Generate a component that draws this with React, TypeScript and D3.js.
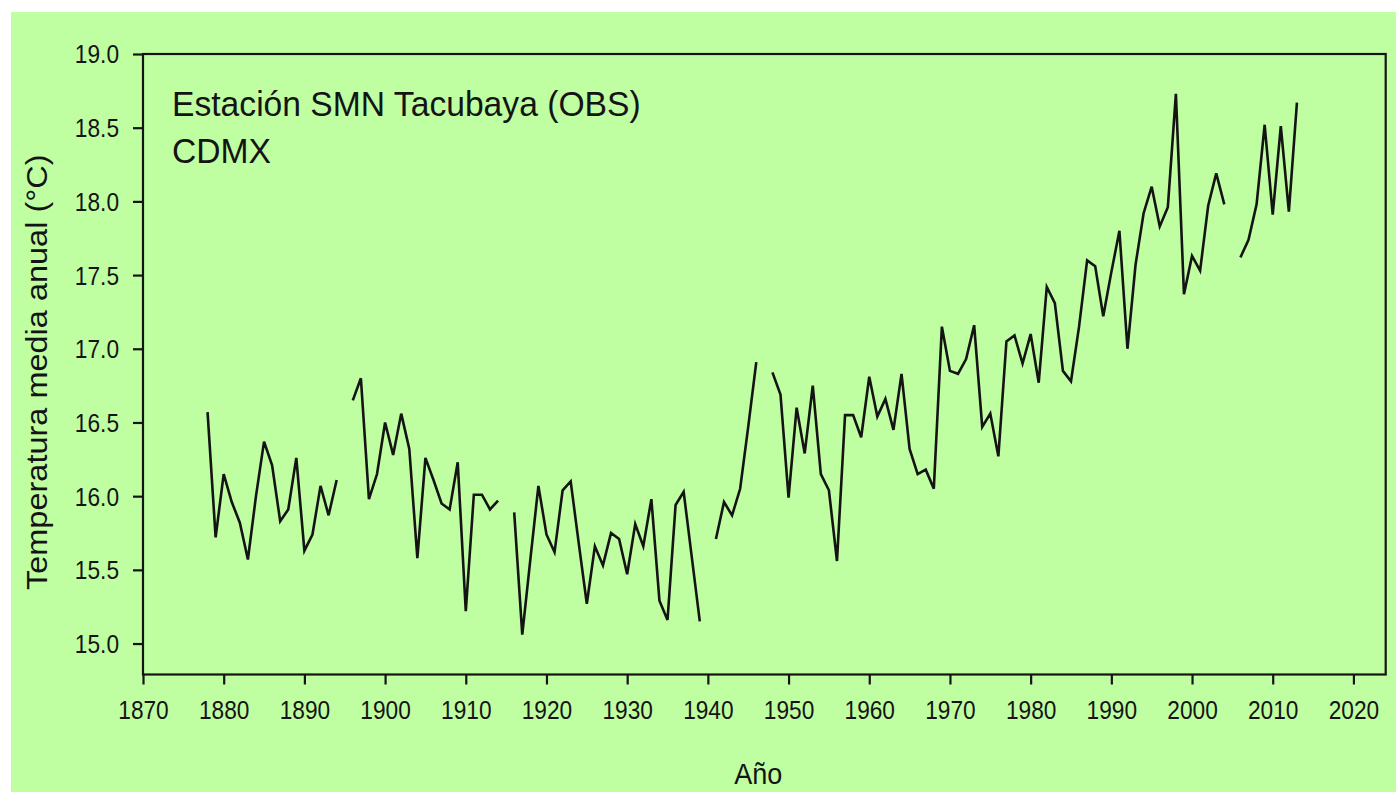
import React, { useEffect, useRef } from 'react';
import * as d3 from 'd3';

// Tacubaya annual mean temperature, 1878-2013 (null = missing year)
const startYear = 1878;
const tempValues: (number | null)[] = [
  16.57, 15.72, 16.15, 15.96, 15.82, 15.57, 16.0, 16.37, 16.21, 15.83, // 1878-1887
  15.91, 16.26, 15.63, 15.74, 16.07, 15.87, 16.11, null, 16.65, 16.8, // 1888-1897
  15.98, 16.15, 16.5, 16.28, 16.56, 16.32, 15.58, 16.26, 16.11, 15.95, // 1898-1907
  15.91, 16.23, 15.22, 16.01, 16.01, 15.91, 15.97, null, 15.89, 15.06, // 1908-1917
  15.57, 16.07, 15.74, 15.62, 16.04, 16.1, 15.68, 15.27, 15.66, 15.53, // 1918-1927
  15.75, 15.71, 15.47, 15.81, 15.66, 15.98, 15.29, 15.16, 15.94, 16.03, // 1928-1937
  15.59, 15.15, null, 15.71, 15.96, 15.87, 16.05, 16.47, 16.91, null, // 1938-1947
  16.84, 16.69, 15.99, 16.6, 16.29, 16.75, 16.15, 16.04, 15.56, 16.55, // 1948-1957
  16.55, 16.4, 16.81, 16.54, 16.66, 16.45, 16.83, 16.32, 16.15, 16.18, // 1958-1967
  16.05, 17.15, 16.85, 16.83, 16.93, 17.16, 16.47, 16.56, 16.27, 17.05, // 1968-1977
  17.09, 16.9, 17.1, 16.77, 17.42, 17.31, 16.85, 16.78, 17.15, 17.6, // 1978-1987
  17.56, 17.22, 17.52, 17.8, 17.0, 17.57, 17.92, 18.1, 17.83, 17.96, // 1988-1997
  18.73, 17.37, 17.63, 17.53, 17.97, 18.19, 17.98, null, 17.62, 17.74, // 1998-2007
  17.98, 18.52, 17.91, 18.51, 17.93, 18.67 // 2008-2013
];

const xTicks = [1870, 1880, 1890, 1900, 1910, 1920, 1930, 1940, 1950, 1960, 1970, 1980, 1990, 2000, 2010, 2020];
const yTicks = [15.0, 15.5, 16.0, 16.5, 17.0, 17.5, 18.0, 18.5, 19.0];
const titleLines = ['Estación SMN Tacubaya (OBS)', 'CDMX'];

const W = 1396;
const H = 792;
const margin = { left: 143, right: 10.3, top: 54, bottom: 117.5 };
const FONT = '"Liberation Sans", Arial, sans-serif';
const INK = '#141414';
const SQUEEZE = 0.89; // the source image is a bit narrow, text looks tall

export default function App() {
  const ref = useRef<SVGSVGElement>(null);

  useEffect(() => {
    if (!ref.current) return;
    const svg = d3.select(ref.current);
    svg.selectAll('*').remove();

    const x = d3.scaleLinear().domain([1870, 2024]).range([margin.left, W - margin.right]);
    const y = d3.scaleLinear().domain([14.79, 19.0]).range([H - margin.bottom, margin.top]);

    svg.append('rect').attr('width', W).attr('height', H).attr('fill', '#ffffff');
    svg.append('rect').attr('x', 11).attr('y', 12).attr('width', W - 11).attr('height', H - 12).attr('fill', '#c0fea2');

    const points = tempValues.map((v, i) => ({ year: startYear + i, v }));
    const line = d3.line<{ year: number; v: number | null }>()
      .defined(d => d.v !== null)
      .x(d => x(d.year))
      .y(d => y(d.v as number));

    svg.append('path')
      .datum(points)
      .attr('d', line)
      .attr('fill', 'none')
      .attr('stroke', INK)
      .attr('stroke-width', 2.6)
      .attr('stroke-linejoin', 'miter');

    // frame
    svg.append('rect')
      .attr('x', x.range()[0])
      .attr('y', y.range()[1])
      .attr('width', x.range()[1] - x.range()[0])
      .attr('height', y.range()[0] - y.range()[1])
      .attr('fill', 'none')
      .attr('stroke', INK)
      .attr('stroke-width', 2.2);

    const xAxis = svg.append('g')
      .attr('transform', `translate(0,${y.range()[0]})`)
      .call(d3.axisBottom(x).tickValues(xTicks).tickSize(10).tickPadding(16).tickFormat(d3.format('d')));
    const yAxis = svg.append('g')
      .attr('transform', `translate(${x.range()[0]},0)`)
      .call(d3.axisLeft(y).tickValues(yTicks).tickSize(10).tickPadding(14).tickFormat(d3.format('.1f')));

    [xAxis, yAxis].forEach(g => {
      g.select('.domain').remove();
      g.selectAll('line').attr('stroke', INK).attr('stroke-width', 2.2);
      g.selectAll('text')
        .attr('fill', INK)
        .attr('font-family', FONT)
        .attr('font-size', 25.5)
        .attr('transform', `scale(${SQUEEZE},1)`);
    });
    yAxis.selectAll('text').attr('dy', '0.35em').attr('x', -24 / SQUEEZE);

    const title = svg.append('text')
      .attr('transform', `translate(172,116) scale(0.935,1)`)
      .attr('fill', INK)
      .attr('font-family', FONT)
      .attr('font-size', 36)
      ;
    titleLines.forEach((t, i) => {
      title.append('tspan').attr('x', 0).attr('dy', i === 0 ? 0 : 47).text(t);
    });

    svg.append('text')
      .attr('transform', `translate(47,${(y.range()[0] + y.range()[1]) / 2 + 8}) rotate(-90) scale(1,0.9)`)
      .attr('text-anchor', 'middle')
      .attr('fill', INK)
      .attr('font-family', FONT)
      .attr('font-size', 32.5)
      .text('Temperatura media anual (°C)');

    svg.append('text')
      .attr('transform', `translate(${(x.range()[0] + x.range()[1]) / 2 - 6},784) scale(0.9,1)`)
      .attr('text-anchor', 'middle')
      .attr('fill', INK)
      .attr('font-family', FONT)
      .attr('font-size', 30)
      .text('Año');
  }, []);

  return (
    <svg
      ref={ref}
      width={W}
      height={H}
      style={{ position: 'absolute', left: 0, top: 0, display: 'block' }}
    />
  );
}
